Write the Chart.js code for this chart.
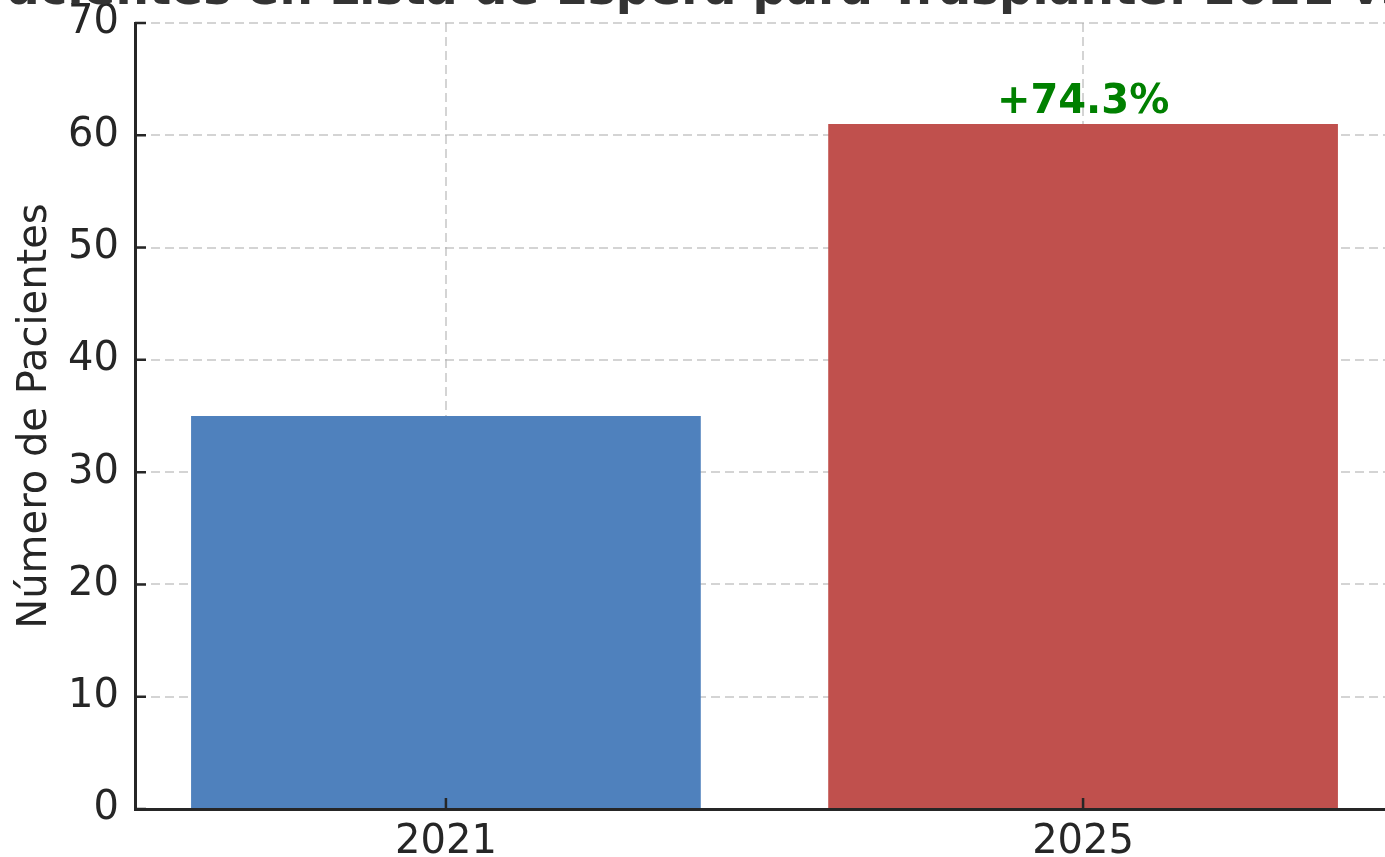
<!DOCTYPE html>
<html>
<head>
<meta charset="utf-8">
<script src="https://cdn.jsdelivr.net/npm/chart.js@4.4.1/dist/chart.umd.min.js"></script>
<style>
  html, body { margin: 0; padding: 0; background: #fff; overflow: hidden; }
  #wrap { position: absolute; left: 0; top: -40px; width: 1420px; height: 897px; }
</style>
</head>
<body>
<div id="wrap"><canvas id="chart"></canvas></div>
<script>
const categories = ['2021', '2025'];
const patients = [35, 61];
const barColors = ['#4f81bd', '#c0504d'];
const yMin = 0;
const yMax = 70;
const yStep = 10;
const chartTitle = 'Pacientes en Lista de Espera para Trasplante: 2021 vs 2025';
const yLabel = 'Número de Pacientes';

const FONT = '"DejaVu Sans", sans-serif';
const INK = '#262626';
const gridStyle = {
  color: 'rgba(176,176,176,0.55)',
  lineWidth: 2,
  drawTicks: false,
  offset: false
};

// title (wider than the canvas, so drawn without squeezing), percent change label, inward ticks
const extras = {
  id: 'extras',
  afterDraw(chart) {
    const ctx = chart.ctx;
    const area = chart.chartArea;
    ctx.save();

    ctx.fillStyle = '#333333';
    ctx.font = 'bold 47px ' + FONT;
    ctx.textAlign = 'center';
    ctx.textBaseline = 'alphabetic';
    ctx.fillText(chartTitle, (area.left + area.right) / 2 + 1, area.top - 19);

    const meta = chart.getDatasetMeta(0);
    const last = meta.data[meta.data.length - 1];
    const change = (patients[patients.length - 1] / patients[0] - 1) * 100;
    ctx.fillStyle = '#008000';
    ctx.font = 'bold 40px ' + FONT;
    ctx.fillText('+' + change.toFixed(1) + '%', last.x, last.y - 11);

    const x = chart.scales.x, y = chart.scales.y;
    ctx.strokeStyle = INK;
    ctx.lineWidth = 2.5;
    ctx.beginPath();
    y.ticks.forEach((t, i) => {
      const py = y.getPixelForTick(i);
      ctx.moveTo(area.left, py);
      ctx.lineTo(area.left + 11, py);
    });
    x.ticks.forEach((t, i) => {
      const px = x.getPixelForTick(i);
      ctx.moveTo(px, area.bottom);
      ctx.lineTo(px, area.bottom - 11);
    });
    ctx.stroke();
    ctx.restore();
  }
};

new Chart(document.getElementById('chart'), {
  type: 'bar',
  data: {
    datasets: [{
      data: categories.map((c, i) => ({ x: i, y: patients[i] })),
      backgroundColor: barColors,
      barPercentage: 0.8,
      categoryPercentage: 1.0
    }]
  },
  options: {
    responsive: true,
    maintainAspectRatio: false,
    animation: false,
    layout: { padding: { left: 0, right: 26, top: 63, bottom: 0 } },
    plugins: {
      legend: { display: false },
      tooltip: { enabled: false }
    },
    scales: {
      x: {
        type: 'linear',
        offset: false,
        z: 1,
        min: -0.488,
        max: 1.488,
        afterBuildTicks(scale) {
          scale.ticks = categories.map((c, i) => ({ value: i }));
        },
        grid: gridStyle,
        border: { display: true, color: INK, width: 3, dash: [9, 5] },
        ticks: {
          color: INK,
          font: { family: FONT, size: 40 },
          padding: 10,
          callback: (v) => categories[v]
        },
        afterFit(scale) { scale.height = 48; }
      },
      y: {
        z: 1,
        min: yMin,
        max: yMax,
        grid: gridStyle,
        border: { display: true, color: INK, width: 3, dash: [9, 5] },
        ticks: { stepSize: yStep, color: INK, font: { family: FONT, size: 40 }, padding: 16 },
        title: {
          display: true,
          text: yLabel,
          color: INK,
          font: { family: FONT, size: 40 },
          padding: { top: 12, bottom: 0 }
        },
        afterFit(scale) { scale.width = 135; }
      }
    }
  },
  plugins: [extras]
});
</script>
</body>
</html>
